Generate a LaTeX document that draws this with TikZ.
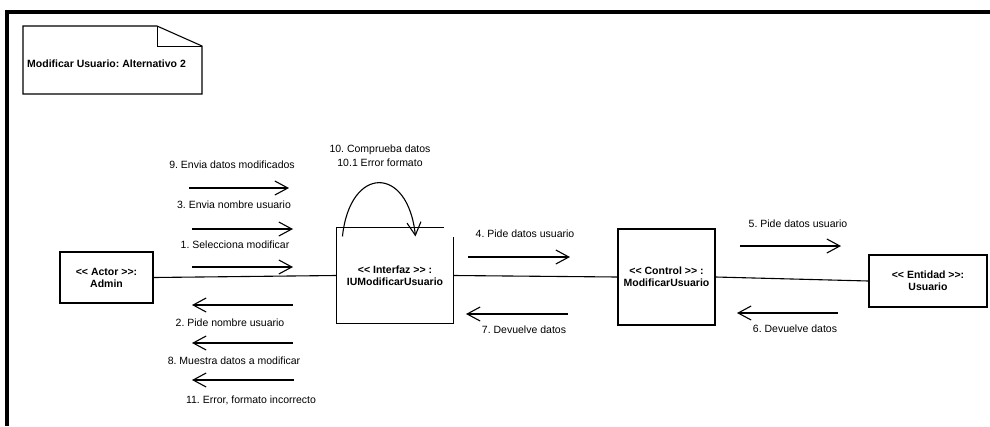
\documentclass[tikz,border=0pt]{standalone}
\usepackage{fontspec}
\setmainfont{Liberation Sans}
\usetikzlibrary{arrows.meta}
\frenchspacing

\tikzset{
  frameline/.style={line width=4pt, line join=miter},
  objbox/.style={draw, line width=1.1pt, align=center, inner sep=0pt,
    font=\fontsize{10.5}{12}\selectfont\bfseries},
  link/.style={line width=1.1pt},
  msg/.style={line width=1.1pt, -{Straight Barb[length=13pt, width=14pt, line width=1.1pt]}},
  lbl/.style={anchor=base, inner sep=0pt, font=\fontsize{10.5}{12}\selectfont},
}

\begin{document}
\begin{tikzpicture}[x=1pt, y=-1pt]
\useasboundingbox (0,0) rectangle (990,426);

% outer frame (top and left edges)
\draw[frameline] (7,426) -- (7,12) -- (990,12);

% title note with folded corner
\node[anchor=west, inner sep=0pt, font=\fontsize{10.5}{12}\selectfont\bfseries] (note) at (27,64) {Modificar Usuario: Alternativo 2};
\draw[line width=1.1pt] (23,26) -- (157,26) -- (202,46) -- (202,94) -- (23,94) -- cycle;
\draw[line width=0.9pt] (157,26) -- (157,46) -- (202,46);

% objects (the {} keeps << and >> from turning into guillemets)
\node[objbox, minimum width=93pt, minimum height=51pt] (act) at (106.5,277.5) {<{}< Actor >{}>:\\Admin};
\node[objbox, draw=none, minimum width=116pt, minimum height=95pt] (ifz) at (395,275.5) {<{}< Interfaz >{}> :\\IUModificarUsuario};
\draw[line width=1.1pt] ([yshift=-10pt]ifz.north east) -- (ifz.south east) -- (ifz.south west) -- (ifz.north west) -- ([xshift=108pt]ifz.north west);
\node[objbox, minimum width=97pt, minimum height=96pt] (ctl) at (666.5,277) {<{}< Control >{}> :\\ModificarUsuario};
\node[objbox, minimum width=118pt, minimum height=52pt] (ent) at (928,281) {<{}< Entidad >{}>:\\Usuario};

% links between objects
\draw[link] (act.east) -- (ifz.west);
\draw[link] (ifz.east) -- (ctl.west);
\draw[link] (ctl.east) -- (ent.west);

% self message on the interface
\coordinate (s0) at ([xshift=6pt, yshift=-9pt]ifz.north west);
\coordinate (s1) at ([xshift=79pt, yshift=-9pt]ifz.north west);
\draw[msg] (s0) .. controls (350,165) and (408,165) .. (s1);
\node[lbl] (l10a) at (380,152) {10. Comprueba datos};
\node[lbl] (l10b) at (380,166) {10.1 Error formato};

% messages Actor -> Interfaz
\coordinate (m9a) at (189,188); \coordinate (m9b) at (289,188);
\draw[msg] (m9a) -- (m9b);
\node[lbl] (l9) at (232,168) {9. Envia datos modificados};

\coordinate (m3a) at (192,229); \coordinate (m3b) at (293,229);
\draw[msg] (m3a) -- (m3b);
\node[lbl] (l3) at (234,208) {3. Envia nombre usuario};

\coordinate (m1a) at (192,267); \coordinate (m1b) at (293,267);
\draw[msg] (m1a) -- (m1b);
\node[lbl] (l1) at (235,248) {1. Selecciona modificar};

% messages Interfaz -> Actor
\coordinate (m2a) at (293,305); \coordinate (m2b) at (192,305);
\draw[msg] (m2a) -- (m2b);
\node[lbl] (l2) at (230,326) {2. Pide nombre usuario};

\coordinate (m8a) at (293,343); \coordinate (m8b) at (192,343);
\draw[msg] (m8a) -- (m8b);
\node[lbl] (l8) at (234,364) {8. Muestra datos a modificar};

\coordinate (m11a) at (294,380); \coordinate (m11b) at (192,380);
\draw[msg] (m11a) -- (m11b);
\node[lbl] (l11) at (251,403) {11. Error, formato incorrecto};

% messages Interfaz <-> Control
\coordinate (m4a) at (468,257); \coordinate (m4b) at (570,257);
\draw[msg] (m4a) -- (m4b);
\node[lbl] (l4) at (525,237) {4. Pide datos usuario};

\coordinate (m7a) at (568,314); \coordinate (m7b) at (466,314);
\draw[msg] (m7a) -- (m7b);
\node[lbl] (l7) at (524,333) {7. Devuelve datos};

% messages Control <-> Entidad
\coordinate (m5a) at (740,246); \coordinate (m5b) at (841,246);
\draw[msg] (m5a) -- (m5b);
\node[lbl] (l5) at (798,227) {5. Pide datos usuario};

\coordinate (m6a) at (838,313); \coordinate (m6b) at (737,313);
\draw[msg] (m6a) -- (m6b);
\node[lbl] (l6) at (795,332) {6. Devuelve datos};
\end{tikzpicture}
\end{document}
